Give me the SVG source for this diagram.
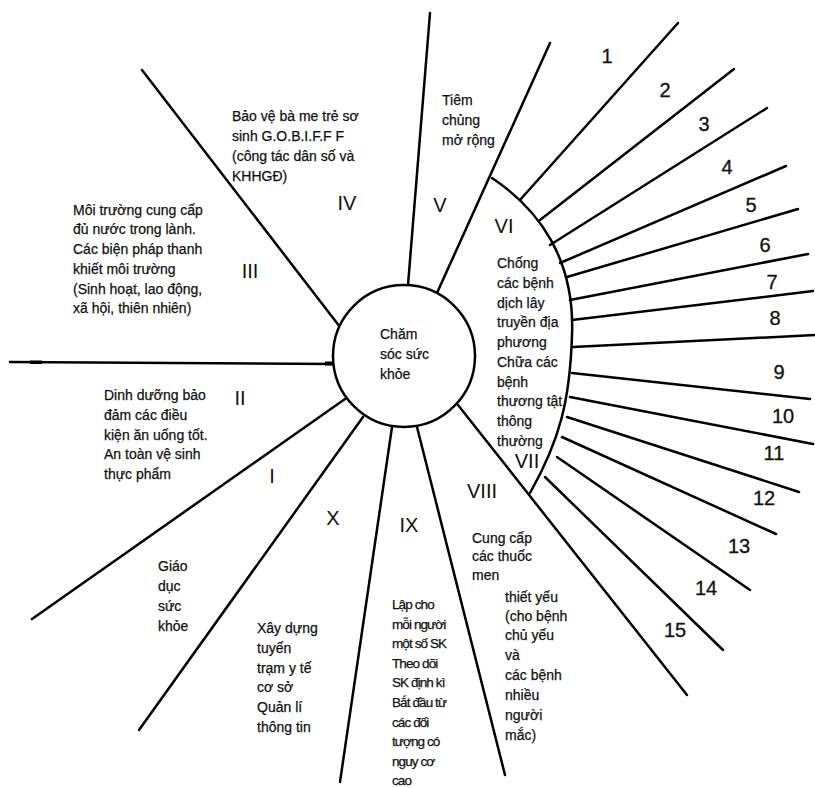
<svg xmlns="http://www.w3.org/2000/svg" width="815" height="788" viewBox="0 0 815 788">
<style>
.ln{stroke:#000;stroke-width:2.5;fill:none;stroke-linecap:round}
.t{font-family:"Liberation Sans",Arial,sans-serif;font-size:14px;fill:#111;stroke:#111;stroke-width:0.25}
.tc{font-family:"Liberation Sans",Arial,sans-serif;font-size:13.5px;letter-spacing:-0.9px;fill:#111;stroke:#111;stroke-width:0.25}
.r{font-family:"Liberation Sans",Arial,sans-serif;font-size:20px;fill:#111;text-anchor:middle}
.n{font-family:"Liberation Sans",Arial,sans-serif;font-size:20px;fill:#111;text-anchor:middle;stroke:#111;stroke-width:0.3}
</style>
<rect width="815" height="788" fill="#fff"/>
<g id="connectors">
<path class="ln" d="M142,70 L340,327"/>
<path class="ln" d="M430,13 L408,285"/>
<path class="ln" d="M550,43 L437,293"/>
<path class="ln" d="M10,362 L333,364"/>
<rect x="30" y="360.5" width="12" height="3.5" fill="#000"/>
<rect x="325" y="361.5" width="8" height="4" fill="#000"/>
<path class="ln" d="M32,619 L345,399"/>
<path class="ln" d="M139,730 L363,417"/>
<path class="ln" d="M340,782 L392,427"/>
<path class="ln" d="M505,775 L417,427"/>
<path class="ln" d="M458,405 L687,695"/>
<path class="ln" d="M492,178 C540,210 575,260 572,335 C570,400 560,440 530,493"/>
<g id="spokes">
<path class="ln" d="M520,200 L678,23"/>
<path class="ln" d="M540,220 L734,69"/>
<path class="ln" d="M550,245 L767,108"/>
<path class="ln" d="M560,263 L786,166"/>
<path class="ln" d="M567,277 L798,209"/>
<path class="ln" d="M570,300 L808,254"/>
<path class="ln" d="M572,320 L813,291"/>
<path class="ln" d="M573,347 L815,335"/>
<path class="ln" d="M572,373 L810,399"/>
<path class="ln" d="M570,397 L813,444"/>
<path class="ln" d="M567,417 L799,492"/>
<path class="ln" d="M562,437 L776,534"/>
<path class="ln" d="M557,457 L750,590"/>
<path class="ln" d="M545,477 L723,650"/>
</g>
</g>
<g id="center">
<circle cx="404" cy="356" r="71" fill="#fff" stroke="#000" stroke-width="2.5"/>
<text class="t" x="380" y="339">Chăm</text>
<text class="t" x="380" y="359">sóc sức</text>
<text class="t" x="380" y="379">khỏe</text>
</g>
<g id="sector-IV">
<text class="r" x="347" y="210">IV</text>
<text class="t" x="232" y="121">Bảo vệ bà me trẻ sơ</text>
<text class="t" x="232" y="141">sinh G.O.B.I.F.F F</text>
<text class="t" x="232" y="161">(công tác dân số và</text>
<text class="t" x="232" y="181">KHHGĐ)</text>
</g>
<g id="sector-III">
<text class="r" x="250" y="278">III</text>
<text class="t" x="73" y="215">Môi trường cung cấp</text>
<text class="t" x="73" y="234">đủ nước trong lành.</text>
<text class="t" x="73" y="254">Các biện pháp thanh</text>
<text class="t" x="73" y="274">khiết môi trường</text>
<text class="t" x="73" y="294">(Sinh hoạt, lao động,</text>
<text class="t" x="73" y="313">xã hội, thiên nhiên)</text>
</g>
<g id="sector-V">
<text class="r" x="440" y="212">V</text>
<text class="t" x="442" y="105">Tiêm</text>
<text class="t" x="442" y="125">chủng</text>
<text class="t" x="442" y="145">mở rộng</text>
</g>
<g id="sector-VI">
<text class="r" x="504" y="233">VI</text>
<text class="t" x="497" y="268">Chống</text>
<text class="t" x="497" y="288">các bệnh</text>
<text class="t" x="497" y="308">dịch lây</text>
<text class="t" x="497" y="327">truyền địa</text>
<text class="t" x="497" y="347">phương</text>
<text class="t" x="497" y="367">Chữa các</text>
<text class="t" x="497" y="387">bệnh</text>
<text class="t" x="497" y="406">thương tật</text>
<text class="t" x="497" y="426">thông</text>
<text class="t" x="497" y="446">thường</text>
</g>
<g id="sector-VII">
<text class="r" x="527" y="468">VII</text>
</g>
<g id="sector-II">
<text class="r" x="240" y="405">II</text>
<text class="t" x="104" y="400">Dinh dưỡng bảo</text>
<text class="t" x="104" y="420">đảm các điều</text>
<text class="t" x="104" y="440">kiện ăn uống tốt.</text>
<text class="t" x="104" y="459">An toàn vệ sinh</text>
<text class="t" x="104" y="479">thực phẩm</text>
</g>
<g id="sector-I">
<text class="r" x="272" y="483">I</text>
<text class="t" x="158" y="571">Giáo</text>
<text class="t" x="158" y="591">dục</text>
<text class="t" x="158" y="611">sức</text>
<text class="t" x="158" y="631">khỏe</text>
</g>
<g id="sector-X">
<text class="r" x="333" y="525">X</text>
<text class="t" x="257" y="633">Xây dựng</text>
<text class="t" x="257" y="653">tuyến</text>
<text class="t" x="257" y="673">trạm y tế</text>
<text class="t" x="257" y="692">cơ sở</text>
<text class="t" x="257" y="712">Quản lí</text>
<text class="t" x="257" y="732">thông tin</text>
</g>
<g id="sector-IX">
<text class="r" x="409" y="532">IX</text>
<text class="tc" x="392" y="609">Lập cho</text>
<text class="tc" x="392" y="628.6">mỗi người</text>
<text class="tc" x="392" y="648.2">một số SK</text>
<text class="tc" x="392" y="667.8">Theo dõi</text>
<text class="tc" x="392" y="687.4">SK định kì</text>
<text class="tc" x="392" y="707">Bắt đầu từ</text>
<text class="tc" x="392" y="726.6">các đối</text>
<text class="tc" x="392" y="746.2">tượng có</text>
<text class="tc" x="392" y="765.8">nguy cơ</text>
<text class="tc" x="392" y="785.4">cao</text>
</g>
<g id="sector-VIII">
<text class="r" x="482" y="498">VIII</text>
<text class="t" x="472" y="543">Cung cấp</text>
<text class="t" x="472" y="561">các thuốc</text>
<text class="t" x="472" y="580">men</text>
<text class="t" x="505" y="602">thiết yếu</text>
<text class="t" x="505" y="621">(cho bệnh</text>
<text class="t" x="505" y="640">chủ yếu</text>
<text class="t" x="505" y="660">và</text>
<text class="t" x="505" y="680">các bệnh</text>
<text class="t" x="505" y="700">nhiều</text>
<text class="t" x="505" y="720">người</text>
<text class="t" x="505" y="740">mắc)</text>
</g>
<g id="numbers">
<text class="n" x="607" y="63">1</text>
<text class="n" x="665" y="97">2</text>
<text class="n" x="704" y="131">3</text>
<text class="n" x="727" y="174">4</text>
<text class="n" x="751" y="212">5</text>
<text class="n" x="765" y="252">6</text>
<text class="n" x="772" y="289">7</text>
<text class="n" x="775" y="325">8</text>
<text class="n" x="779" y="379">9</text>
<text class="n" x="783" y="423">10</text>
<text class="n" x="774" y="460">11</text>
<text class="n" x="764" y="505">12</text>
<text class="n" x="739" y="553">13</text>
<text class="n" x="706" y="595">14</text>
<text class="n" x="675" y="637">15</text>
</g>
</svg>
